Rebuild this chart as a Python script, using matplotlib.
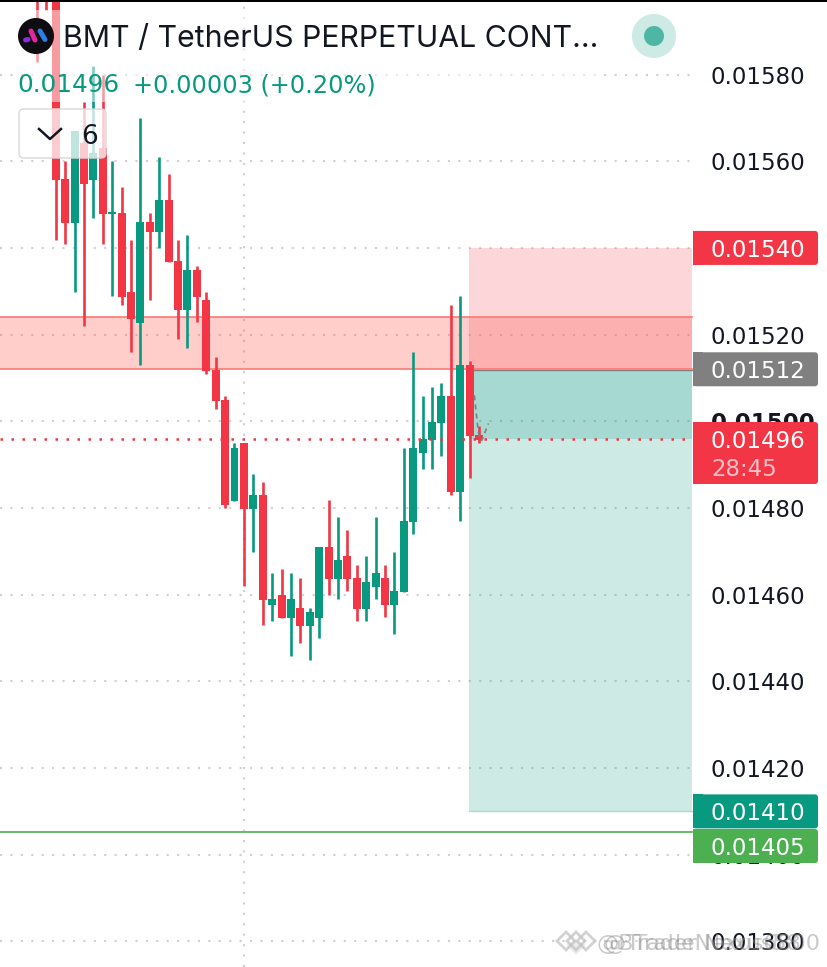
# -*- coding: utf-8 -*-
import numpy as np
import matplotlib
matplotlib.use('Agg')
import matplotlib.pyplot as plt
from matplotlib.patches import FancyBboxPatch, Rectangle, Circle, Polygon
from matplotlib.transforms import blended_transform_factory

plt.rcParams['font.family'] = ['Inter', 'DejaVu Sans']

# prices in units of 0.00001
highs = [1615, 1610, 1610, 1560.1, 1567.0, 1573.7, 1582.0, 1579.9, 1560.1, 1554.1, 1541.8, 1570.0,
         1548.1, 1561.0, 1557.1, 1541.8, 1543.0, 1535.8, 1529.8, 1514.8, 1505.8, 1495.0, 1495.0, 1487.8,
         1486.0, 1465.0, 1465.9, 1465.0, 1463.9, 1456.9, 1471.0, 1481.8, 1477.9, 1474.9, 1466.9, 1468.9,
         1477.9, 1466.9, 1469.8, 1493.8, 1516.0, 1505.8, 1507.9, 1508.8, 1526.8, 1528.9, 1513.9, 1498.9]
opens = [1610, 1605, 1605, 1555.9, 1545.7, 1564.2, 1555.7, 1563.1, 1547.8, 1548.1, 1529.8, 1522.7,
         1546.0, 1543.7, 1551.1, 1537.0, 1525.7, 1534.9, 1528.0, 1511.8, 1504.9, 1481.6, 1495.0, 1479.8,
         1483.0, 1457.6, 1459.9, 1454.6, 1456.9, 1452.8, 1454.6, 1471.0, 1463.6, 1468.9, 1463.9, 1456.7,
         1461.8, 1463.9, 1457.6, 1460.6, 1476.8, 1492.7, 1495.7, 1499.6, 1505.8, 1483.7, 1513.0, 1496.8]
closes = [1600, 1600, 1555.7, 1545.7, 1567.0, 1554.7, 1561.9, 1547.8, 1548.3, 1528.7, 1523.6, 1546.0,
          1543.7, 1551.1, 1536.8, 1525.7, 1534.9, 1528.7, 1511.6, 1504.7, 1480.7, 1493.8, 1479.8, 1483.0,
          1458.8, 1459.0, 1454.6, 1459.0, 1452.8, 1456.0, 1471.0, 1463.6, 1468.0, 1463.6, 1456.7, 1462.9,
          1465.0, 1457.6, 1460.9, 1477.0, 1493.8, 1495.9, 1499.8, 1505.8, 1483.7, 1513.0, 1496.6, 1495.7]
lows = [1582.9, 1594.9, 1541.8, 1540.9, 1529.8, 1522.0, 1546.9, 1540.9, 1528.9, 1526.8, 1516.0, 1513.0,
        1528.0, 1540.0, 1536.8, 1519.0, 1516.9, 1522.9, 1510.9, 1502.8, 1480.0, 1481.6, 1462.0, 1469.8,
        1453.0, 1453.9, 1454.6, 1445.9, 1448.9, 1444.9, 1450.0, 1459.9, 1459.0, 1460.9, 1453.9, 1453.9,
        1459.0, 1454.9, 1450.9, 1460.6, 1474.0, 1489.0, 1489.0, 1492.0, 1483.0, 1477.0, 1486.9, 1495.0]

tickPrices = [1580, 1560, 1540, 1520, 1500, 1480, 1460, 1440, 1420, 1400, 1380]
tickLabels = ['0.01580', '0.01560', '0.01540', '0.01520', '0.01500', '0.01480', '0.01460',
              '0.01440', '0.01420', '0.01400', '0.01380']

zoneTop = 1524.1
zoneBottom = 1512.1
stopPrice = 1540
entryPrice = 1512
lastPrice = 1496
targetPrice = 1410
greenLinePrice = 1405.3

# small dashed path after the last candle
pathBars = [46.5, 46.9, 47.1, 47.3, 48.0]
pathPrices = [1506, 1498, 1495.6, 1495.6, 1499.5]

GREEN = '#089981'
RED = '#f23645'
NUM_FONT = ['DejaVu Sans']

toPrice = lambda v: np.array(v) / 1e5

W, H = 827, 967
figure = plt.figure(figsize=(W / 100, H / 100), dpi=100, facecolor='white')
ax = figure.add_axes([0, 0, 1, 1])
ax.set_xlim(-3.934, 84.0)
ax.set_ylim(1374.1 / 1e5, 1597.2 / 1e5)
ax.axis('off')

# x of the right edge of the chart pane and of the position box, in bars
paneRight = 69.65
posLeft = 45.94

for p in tickPrices:
    ax.plot([-3.934, paneRight], [p / 1e5, p / 1e5], color='#d0d0d0', lw=1.5,
            ls=(0, (1, 4)), zorder=1)
ax.plot([22, 22], [1374.1 / 1e5, 1597.2 / 1e5], color='#d0d0d0', lw=1.5, ls=(0, (1, 4)), zorder=1)

# long position tool
ax.fill_between([posLeft, paneRight], entryPrice / 1e5, stopPrice / 1e5, color='#f23645', alpha=0.2, lw=0, zorder=2)
ax.fill_between([posLeft, paneRight], targetPrice / 1e5, entryPrice / 1e5, color='#089981', alpha=0.2, lw=0, zorder=2)
ax.fill_between([posLeft, paneRight], lastPrice / 1e5, entryPrice / 1e5, color='#089981', alpha=0.2, lw=0, zorder=2)
ax.plot([posLeft, paneRight], [targetPrice / 1e5] * 2, color='#a6dad0', lw=1, zorder=2)
ax.plot([posLeft, paneRight], [entryPrice / 1e5 - 0.000002] * 2, color='#808080', lw=1, zorder=2)

# supply zone
ax.fill_between([-3.934, paneRight], zoneBottom / 1e5, zoneTop / 1e5, color='#ff5a50', alpha=0.3, lw=0, zorder=2.5)
ax.plot([-3.934, paneRight], [zoneTop / 1e5] * 2, color='#fb7a74', lw=1.2, zorder=2.6)
ax.plot([-3.934, paneRight], [zoneBottom / 1e5] * 2, color='#fb7a74', lw=1.2, zorder=2.6)

ax.plot([-3.934, paneRight], [greenLinePrice / 1e5] * 2, color='#4caf50', lw=1.2, zorder=2.6)

# candles
bars = np.arange(len(opens))
colors = [GREEN if c >= o else RED for o, c in zip(opens, closes)]
bodyLow = np.minimum(toPrice(opens), toPrice(closes))
bodyHigh = np.maximum(toPrice(opens), toPrice(closes))
ax.vlines(bars, toPrice(lows), toPrice(highs), colors=colors, lw=1.9, zorder=3)
ax.bar(bars, bodyHigh - bodyLow, bottom=bodyLow, width=0.85, color=colors, lw=0, zorder=3.1)

ax.plot([-3.934, paneRight], [lastPrice / 1e5] * 2, color=RED, lw=1.8, ls=(0, (1, 3.4)), zorder=3.2)
ax.plot(pathBars, toPrice(pathPrices), color='#808080', lw=1.2, ls=(0, (3, 2.5)), zorder=3.3)

# price scale text
trans = blended_transform_factory(ax.transAxes, ax.transData)
for p, label in zip(tickPrices, tickLabels):
    weight = 'bold' if p == 1500 else 'normal'
    ax.text(711 / W, p / 1e5, label, transform=trans, fontsize=16.5, color='#131722', va='center_baseline',
            ha='left', fontweight=weight, family=NUM_FONT, zorder=4)


def pricePx(p):
    return H - ax.transData.transform((0, p / 1e5))[1]


# pixel layer for labels and legend pieces
axPx = figure.add_axes([0, 0, 1, 1])
axPx.set_xlim(0, W)
axPx.set_ylim(H, 0)
axPx.axis('off')
axPx.patch.set_alpha(0)


def priceBox(top, bottom, color):
    axPx.add_patch(FancyBboxPatch((696, top + 3), 119, bottom - top - 6, boxstyle='round,pad=3,rounding_size=3',
                                  fc=color, ec='none', zorder=5))
    axPx.add_patch(Rectangle((693, top), 10, bottom - top, fc=color, ec='none', zorder=5))


def boxText(y, label, color='white'):
    axPx.text(711, y, label, fontsize=16.5, color=color, va='center_baseline', family=NUM_FONT, zorder=6)


for p, color, label in [(stopPrice, RED, '0.01540'), (entryPrice, '#808080', '0.01512'),
                        (targetPrice, GREEN, '0.01410')]:
    y = pricePx(p)
    priceBox(y - 17, y + 17, color)
    boxText(y, label)
priceBox(829, 863, '#4caf50')
boxText(846, '0.01405')
priceBox(422, 484, RED)
boxText(439, '0.01496')
boxText(467, '28:45', '#fbc0c5')

# header overlay fades the candles under the legend
axPx.add_patch(Rectangle((17, 10), 583, 92, fc='white', ec='none', alpha=0.5, zorder=2))
axPx.add_patch(Rectangle((0, 0), W, 2, fc='black', ec='none', zorder=9))

# logo
axPx.add_patch(Circle((36, 36), 18, fc='#0d0d12', ec='none', zorder=3))
axPx.plot([25.5, 28], [40, 39.5], color='#8a2be2', lw=3.6, solid_capstyle='round', zorder=4)
axPx.plot([31, 35], [31, 40], color='#e0289b', lw=3.6, solid_capstyle='round', zorder=4)
axPx.plot([40, 45], [31, 39.5], color='#2f7de1', lw=3.6, solid_capstyle='round', zorder=4)

axPx.text(63, 36, 'BMT / TetherUS PERPETUAL CONT...', fontsize=21.8, color='#131722',
          va='center_baseline', zorder=4)
axPx.text(17, 83, '0.01496', fontsize=17.8, color=GREEN, va='center_baseline', family=NUM_FONT, zorder=4)
axPx.text(133, 83, '+0.00003 (+0.20%)', fontsize=17.3, color=GREEN, va='center_baseline', family=NUM_FONT, zorder=4)

# collapse button
axPx.add_patch(FancyBboxPatch((22, 112), 81, 43, boxstyle='round,pad=3,rounding_size=5', fc=(1, 1, 1, 0.75),
                              ec='#d8d8d8', lw=1, zorder=3))
axPx.plot([39, 50, 61], [129, 139, 129], color='#131722', lw=1.8, zorder=4)
axPx.text(81, 134, '6', fontsize=19, color='#131722', va='center_baseline', family=NUM_FONT, zorder=4)

# status dot
axPx.add_patch(Circle((654, 36), 22, fc='#cdeae5', ec='none', zorder=3))
axPx.add_patch(Circle((654, 36), 10, fc='#4db6a4', ec='none', zorder=4))

# watermark
for cx in (566, 576, 586):
    axPx.add_patch(Polygon([(cx - 9, 941), (cx, 932), (cx + 9, 941), (cx, 950)], closed=True, fc='none',
                           ec='#c4c4c4', lw=2, alpha=0.75, zorder=7))
axPx.add_patch(Polygon([(566, 945), (576, 955), (586, 945), (576, 940)], closed=True, fc='#e2e2e2',
                       ec='none', alpha=0.6, zorder=6.9))
for x, text in [(597, '@BTradeNexus6800'), (604, '@Trader Nexus58')]:
    axPx.text(x, 942, text, fontsize=16, color='#8a8a8a', alpha=0.45, va='center_baseline', family=NUM_FONT, zorder=7)

figure.savefig('out.png', dpi=100)
